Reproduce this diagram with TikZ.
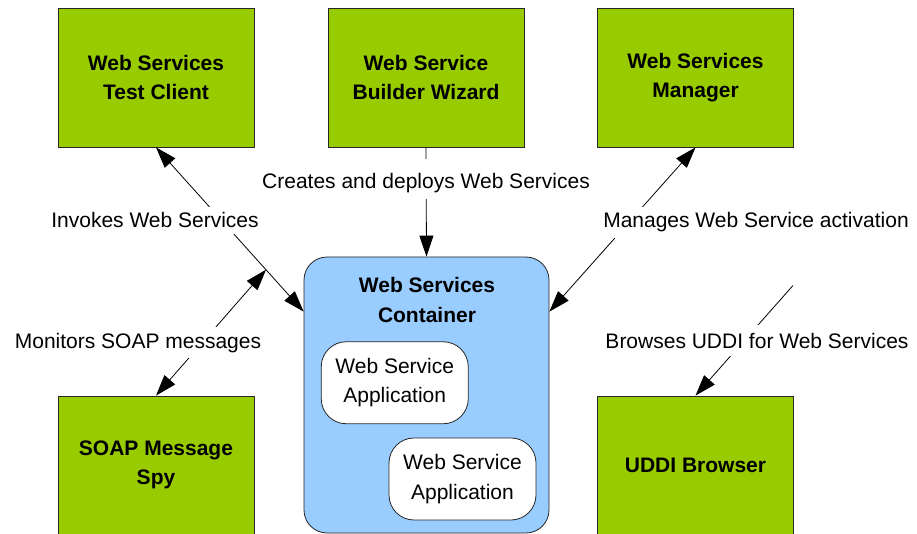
\documentclass[tikz,border=0pt]{standalone}
\usepackage{fontspec}
\setmainfont{Liberation Sans}
\usetikzlibrary{arrows.meta,calc}
\definecolor{toolgreen}{HTML}{99CC00}
\definecolor{containerblue}{HTML}{99CCFF}
\begin{document}
\begin{tikzpicture}[x=1pt,y=-1pt,
  >={Triangle[length=21pt,width=14pt]},
  tool/.style={draw=black!85, line width=0.8pt, fill=toolgreen,
    minimum width=196pt, minimum height=139pt, inner sep=0pt, align=center,
    font=\fontsize{21}{29.5}\selectfont\bfseries},
  app/.style={draw=black!85, line width=0.8pt, fill=white, rounded corners=25pt,
    minimum width=147pt, minimum height=82pt, inner sep=0pt, align=center,
    font=\fontsize{21}{29.5}\selectfont},
  conn/.style={draw=black, line width=0.8pt},
  lbl/.style={fill=white, inner xsep=1pt, inner ysep=6pt, anchor=base,
    font=\fontsize{21}{25}\selectfont}]
\useasboundingbox (0,0) rectangle (917,534);

% tool boxes
\node[tool] (client)  at (156,77.5)   {Web Services\\Test Client};
\node[tool] (wizard)  at (426,77.5)   {Web Service\\Builder Wizard};
\node[tool] (manager) at (695.5,77.5) {Web Services\\Manager};
\node[tool, minimum height=138pt] (spy)  at (156,465)   {SOAP Message\\Spy};
\node[tool, minimum height=138pt] (uddi) at (695.5,465) {UDDI Browser};

% container with its applications
\node[draw=black!85, line width=0.8pt, fill=containerblue, rounded corners=23pt,
  minimum width=245pt, minimum height=276pt] (container) at (426.5,395) {};
\node[align=center, font=\fontsize{21}{30}\selectfont\bfseries] (ctitle)
  at (427,299.5) {Web Services\\Container};
\node[app] (app1) at (394.75,382.75) {Web Service\\Application};
\node[app] (app2) at (462.5,479)     {Web Service\\Application};

% connector end points
\coordinate (cinL) at ($(container.north west)+(0,55)$);
\coordinate (cinR) at ($(container.north east)+(0,55)$);
\coordinate (tap) at ($(client.south)!0.745!(cinL)$);
\coordinate (uddiEnd) at ($(uddi.north east)+(-1,-110)$);

% connectors
\draw[conn,<->] (client.south) -- (cinL);
\draw[conn,->] (wizard.south) -- (container.north);
\draw[conn,<->] (manager.south) -- (cinR);
\draw[conn,<->] (spy.north) -- (tap);
\draw[conn,->] (uddiEnd) -- (uddi.north);

% connector labels
\node[lbl, text height=24pt] (lcreate) at (426,189) {Creates and deploys Web Services};
\node[lbl] (linvoke)  at (155,228) {Invokes Web Services};
\node[lbl] (lmanage)  at (756,228) {Manages Web Service activation};
\node[lbl] (lmonitor) at (138,348) {Monitors SOAP messages};
\node[lbl, inner ysep=8pt] (lbrowse) at (757,348) {Browses UDDI for Web Services};
\end{tikzpicture}
\end{document}
